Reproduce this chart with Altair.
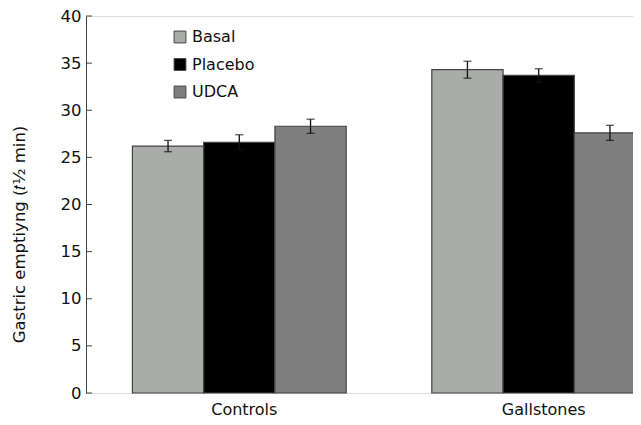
import altair as alt
import pandas as pd

groups = ["Controls", "Gallstones"]
treatments = ["Basal", "Placebo", "UDCA"]
controls_mean = [26.2, 26.6, 28.3]
controls_err = [0.6, 0.8, 0.75]
gallstones_mean = [34.3, 33.7, 27.6]
gallstones_err = [0.9, 0.7, 0.8]
y_ticks = [0, 5, 10, 15, 20, 25, 30, 35, 40]
colors = ["#aaacaa", "#000000", "#7f7f7f"]

rows = []
for g, means, errs in [("Controls", controls_mean, controls_err),
                       ("Gallstones", gallstones_mean, gallstones_err)]:
    for t, m, e in zip(treatments, means, errs):
        rows.append(dict(group=g, treatment=t, mean=m, lo=m - e, hi=m + e))
df = pd.DataFrame(rows)
ticks_df = pd.DataFrame({"v": y_ticks})

FONT = "DejaVu Sans"

x = alt.X(
    "group:N", sort=groups, title=None,
    scale=alt.Scale(range=[0, 606], paddingInner=0.286, paddingOuter=0.155),
    axis=alt.Axis(domain=False, ticks=False, labelAngle=0, labelFontSize=16,
                  labelFont=FONT, labelPadding=8, labelColor="#111", labelOffset=5),
)
xoff = alt.XOffset("treatment:N", sort=treatments,
                   scale=alt.Scale(paddingInner=0, paddingOuter=0))
yscale = alt.Scale(domain=[0, 40], nice=False, zero=True)

bars = alt.Chart(df).mark_bar(stroke="#444", strokeWidth=1.2).encode(
    x=x,
    xOffset=xoff,
    y=alt.Y("mean:Q", scale=yscale,
            axis=alt.Axis(values=y_ticks, ticks=False, grid=False,
                          domainColor="#444", domainWidth=1,
                          labelFontSize=16.5, labelFont=FONT, labelPadding=5,
                          labelColor="#111",
                          title="Gastric emptiyng (𝑡½ min)",
                          titleFont=FONT, titleFontSize=16.5, titleFontWeight="normal",
                          titleColor="#111",
                          titleX=-67, titleY=218, titleAngle=270,
                          titleBaseline="middle", titleAlign="center")),
    color=alt.Color("treatment:N", sort=treatments,
                    scale=alt.Scale(domain=treatments, range=colors),
                    legend=alt.Legend(title=None, orient="none", legendX=86, legendY=13,
                                      symbolType="square", symbolSize=140,
                                      symbolStrokeColor="#444", symbolStrokeWidth=1,
                                      labelFont=FONT, labelFontSize=16, labelColor="#111",
                                      labelOffset=4, rowPadding=11.5, padding=0)),
)

err = alt.Chart(df).mark_rule(color="#111", strokeWidth=1.3).encode(
    x=x, xOffset=xoff, y=alt.Y("lo:Q", scale=yscale), y2="hi:Q")
cap_hi = alt.Chart(df).mark_tick(color="#111", size=8, thickness=1.3).encode(
    x=x, xOffset=xoff, y=alt.Y("hi:Q", scale=yscale))
cap_lo = alt.Chart(df).mark_tick(color="#111", size=8, thickness=1.3).encode(
    x=x, xOffset=xoff, y=alt.Y("lo:Q", scale=yscale))

yt = alt.Chart(ticks_df).mark_rule(color="#444", strokeWidth=1).encode(
    y=alt.Y("v:Q", scale=yscale), x=alt.value(0), x2=alt.value(6))

chart = alt.layer(bars, err, cap_hi, cap_lo, yt).properties(
    width=547, height=377,
    autosize=alt.AutoSizeParams(type="none"),
    padding={"left": 78, "top": 8, "right": 0, "bottom": 24},
    background="white",
).configure_view(stroke=None).configure(font=FONT)

chart.save("out.html", embed_options={"renderer": "svg", "actions": False})
